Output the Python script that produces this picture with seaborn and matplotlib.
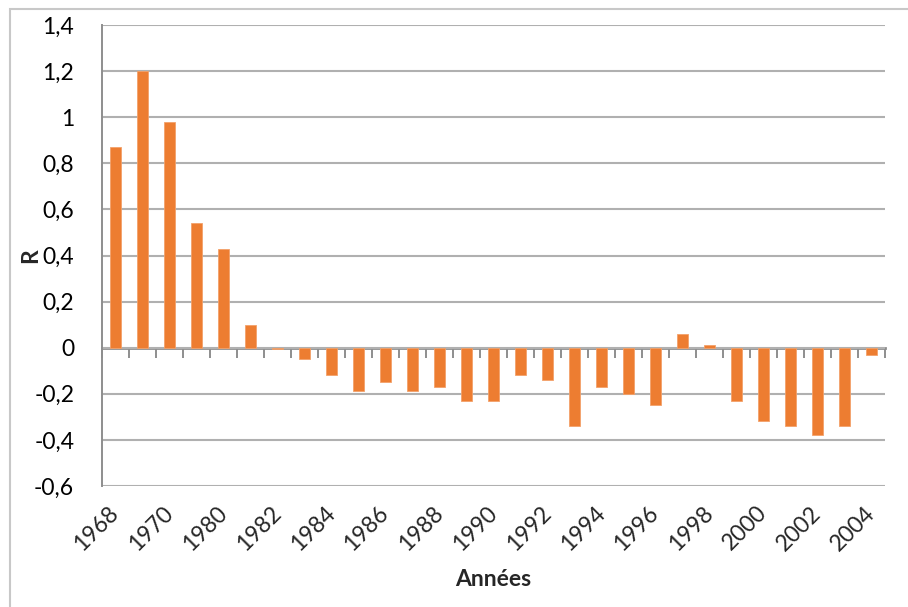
import matplotlib
matplotlib.use("Agg")
import matplotlib.pyplot as plt
from matplotlib.patches import Rectangle
import seaborn as sns
import pandas as pd

# Yearly R values
years = ["1968", "1969", "1970", "1975", "1980", "1981", "1982", "1983", "1984",
         "1985", "1986", "1987", "1988", "1989", "1990", "1991", "1992", "1993",
         "1994", "1995", "1996", "1997", "1998", "1999", "2000", "2001", "2002",
         "2003", "2004"]
r_values = [0.87, 1.20, 0.98, 0.54, 0.43, 0.10, -0.005, -0.05, -0.12,
            -0.19, -0.15, -0.19, -0.17, -0.23, -0.23, -0.12, -0.14, -0.34,
            -0.17, -0.20, -0.25, 0.06, 0.01, -0.23, -0.32, -0.34, -0.38,
            -0.34, -0.03]
y_ticks = [-0.6, -0.4, -0.2, 0, 0.2, 0.4, 0.6, 0.8, 1.0, 1.2, 1.4]
y_tick_labels = ["-0,6", "-0,4", "-0,2", "0", "0,2", "0,4", "0,6", "0,8", "1", "1,2", "1,4"]

sns.set_style("white")
plt.rcParams["font.family"] = ["Lato", "DejaVu Sans"]

df = pd.DataFrame({"Année": years, "R": r_values})

fig = plt.figure(figsize=(9.08, 6.07), dpi=100)
W, H = 908, 607
ax = fig.add_axes([102 / W, 1 - 486 / H, (885 - 102) / W, (486 - 25) / H])

# Outer chart frame
fig.patches.append(Rectangle((10 / W, -0.1), 1.2, 1 - 9 / H + 0.1,
                             transform=fig.transFigure, fill=False,
                             edgecolor="#C8C8C8", linewidth=1.5, zorder=0))

sns.barplot(data=df, x="Année", y="R", color="#ED7D31", width=0.4,
            saturation=1, ax=ax, zorder=3, edgecolor="#F3A16A", linewidth=0.6)

ax.set_xlim(-0.5, len(years) - 0.5)
ax.set_ylim(-0.6, 1.4)
ax.set_yticks(y_ticks)
ax.set_yticklabels(y_tick_labels)
ax.yaxis.grid(True, color="#B0B0B0", linewidth=1.5, zorder=0)
ax.set_axisbelow(True)

for side in ["top", "right", "bottom"]:
    ax.spines[side].set_visible(False)
ax.spines["left"].set_color("#8E8E8E")
ax.spines["left"].set_linewidth(1.4)

ax.tick_params(axis="y", which="major", length=8, width=1.4, color="#8E8E8E",
               labelsize=16.5, pad=12, labelcolor="#000000")

# Category labels every other year along the bottom edge
positions = list(range(len(years)))
ax.set_xticks(positions[::2])
ax.set_xticklabels(years[::2], rotation=45, ha="right", va="center",
                   rotation_mode="anchor", fontsize=16.5)
ax.tick_params(axis="x", length=0, pad=17)

# Horizontal category axis crossing at zero, ticks between categories
zero_frac = (0 - (-0.6)) / (1.4 - (-0.6))
sec = ax.secondary_xaxis(zero_frac)
sec.set_xticks([p - 0.5 for p in positions] + [len(years) - 0.5])
sec.set_xticklabels([])
sec.spines["bottom"].set_color("#8E8E8E")
sec.spines["bottom"].set_linewidth(2)
sec.tick_params(axis="x", direction="out", length=7, width=1.4, color="#8E8E8E")
for side in ["top", "right", "left"]:
    sec.spines[side].set_visible(False)

ax.set_xlabel("Années", fontsize=16.5, fontweight="bold")
ax.xaxis.set_label_coords(0.5, -(580 - 486) / 461)
ax.xaxis.label.set_va("center")
ax.set_ylabel("R", fontsize=16.5, fontweight="bold")
ax.yaxis.set_label_coords(-(102 - 31) / 783, 0.5)
ax.yaxis.label.set_va("center")

fig.savefig("out.png", dpi=100)
